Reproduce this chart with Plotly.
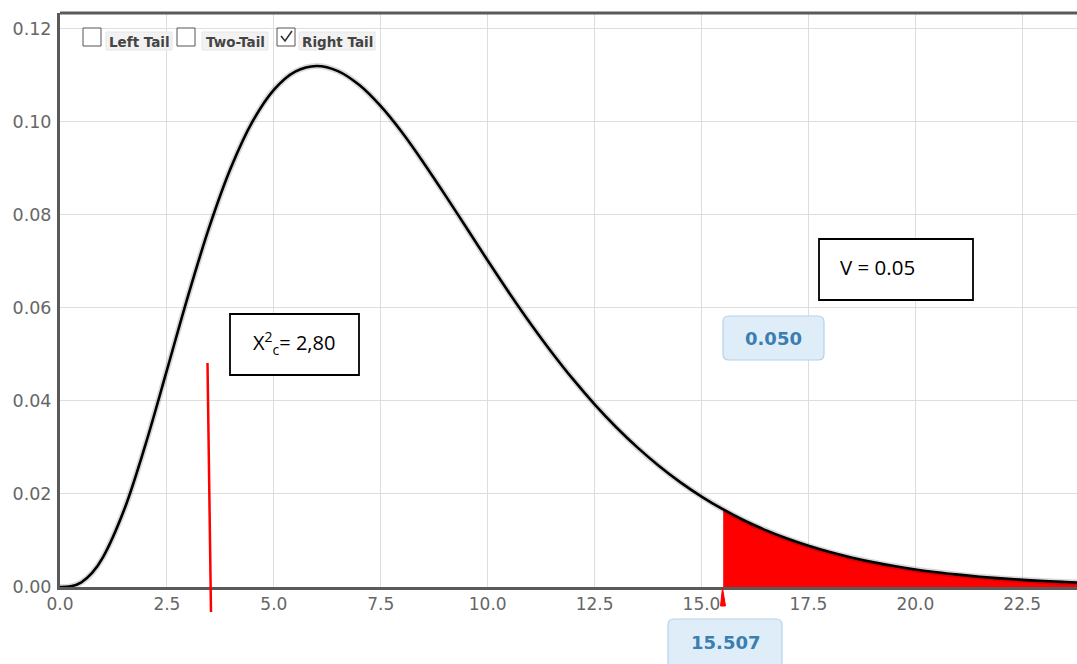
import plotly.graph_objects as go

# ---- data (chi-square density, df = 8) ----
x_vals = [0, 0.25, 0.5, 0.75, 1, 1.5, 2, 2.5, 3, 3.5, 4, 4.5, 5, 5.5, 6, 6.5, 7, 7.5, 8, 8.5,
          9, 9.5, 10, 10.5, 11, 11.5, 12, 12.5, 13, 13.5, 14, 14.5, 15, 15.507, 16, 16.5, 17,
          17.5, 18, 18.5, 19, 19.5, 20, 20.5, 21, 21.5, 22, 22.5, 23, 23.5, 24]
y_vals = [0, 0.00014, 0.00101, 0.00302, 0.00632, 0.01661, 0.03066, 0.04663, 0.06276, 0.07762,
          0.09022, 0.10004, 0.10688, 0.11080, 0.11202, 0.11091, 0.10790, 0.10336, 0.09770,
          0.09123, 0.08436, 0.07727, 0.07019, 0.06328, 0.05666, 0.05043, 0.04462, 0.03927,
          0.03440, 0.03001, 0.02607, 0.02255, 0.01944, 0.01667, 0.01430, 0.01223, 0.01041,
          0.00885, 0.00750, 0.00634, 0.00535, 0.00450, 0.00378, 0.00317, 0.00266, 0.00222,
          0.00185, 0.00154, 0.00128, 0.00107, 0.00088]
critical_value = 15.507
tail_area = "0.050"
x_ticks = [0, 2.5, 5, 7.5, 10, 12.5, 15, 17.5, 20, 22.5]
x_tick_text = ["0.0", "2.5", "5.0", "7.5", "10.0", "12.5", "15.0", "17.5", "20.0", "22.5"]
y_ticks = [0, 0.02, 0.04, 0.06, 0.08, 0.10, 0.12]
y_tick_text = ["0.00", "0.02", "0.04", "0.06", "0.08", "0.10", "0.12"]
tail_options = ["Left Tail", "Two-Tail", "Right Tail"]
tail_checked = [False, False, True]
box_v_text = "V = 0.05"
box_x_text = "X<sup>2</sup><sub>c</sub>= 2,80"

tail_x = [x for x in x_vals if x >= critical_value]
tail_y = [y for x, y in zip(x_vals, y_vals) if x >= critical_value]

# ---- layout geometry (screen pixels; page body margin removed) ----
W, H = 1077, 664
L, T, R = 60, 13, 0
B = H - 587
PW, PH = W - L - R, H - T - B


def px(X):
    return (X - L) / PW


def py(Y):
    return (H - B - Y) / PH


fig = go.Figure()
fig.add_trace(go.Scatter(x=tail_x, y=tail_y, mode="lines", line=dict(color="red", width=0, shape="spline"),
                         fill="tozeroy", fillcolor="red", hoverinfo="skip", showlegend=False))
fig.add_trace(go.Scatter(x=x_vals, y=y_vals, mode="lines",
                         line=dict(color="rgba(0,0,0,0.15)", width=6, shape="spline"),
                         hoverinfo="skip", showlegend=False))
fig.add_trace(go.Scatter(x=x_vals, y=y_vals, mode="lines", line=dict(color="black", width=2.6, shape="spline"),
                         showlegend=False))

shapes = []
annotations = []

# top border
shapes.append(dict(type="line", xref="paper", yref="paper", x0=0, x1=1, y0=1, y1=1,
                   line=dict(color="#5a5a5a", width=3)))

# red vertical line (X2c marker)
shapes.append(dict(type="line", xref="paper", yref="paper", x0=px(207.5), y0=py(363), x1=px(211), y1=py(612),
                   line=dict(color="red", width=2.5)))

# red pointer under the critical value
shapes.append(dict(type="path", xref="paper", yref="paper",
                   path=f"M {px(720.5)} {py(606)} L {px(722.5)} {py(588)} L {px(725.5)} {py(606)} Z",
                   fillcolor="red", line=dict(color="red", width=1)))


def rounded(x0, y0, x1, y1, r=6):
    return (f"M {px(x0 + r)} {py(y0)} L {px(x1 - r)} {py(y0)} "
            f"Q {px(x1)} {py(y0)} {px(x1)} {py(y0 + r)} L {px(x1)} {py(y1 - r)} "
            f"Q {px(x1)} {py(y1)} {px(x1 - r)} {py(y1)} L {px(x0 + r)} {py(y1)} "
            f"Q {px(x0)} {py(y1)} {px(x0)} {py(y1 - r)} L {px(x0)} {py(y0 + r)} "
            f"Q {px(x0)} {py(y0)} {px(x0 + r)} {py(y0)} Z")


# blue value boxes
for (x0, y0, x1, y1, ty, txt) in [(668, 619, 782, 672, 642, f"{critical_value:.3f}"),
                                  (723, 316, 824, 360, 338, tail_area)]:
    shapes.append(dict(type="path", xref="paper", yref="paper", path=rounded(x0, y0, x1, y1),
                       fillcolor="#dfedf9", line=dict(color="#b3d2ec", width=1.2)))
    annotations.append(dict(xref="paper", yref="paper", x=px((x0 + x1) / 2), y=py(ty),
                            xanchor="center", yanchor="middle",
                            text=f"<b>{txt}</b>", showarrow=False,
                            font=dict(family="DejaVu Sans", size=18, color="#3a7fb0")))

# black text boxes
shapes.append(dict(type="rect", xref="paper", yref="paper", x0=px(819), x1=px(973), y0=py(239), y1=py(300),
                   fillcolor="white", line=dict(color="black", width=1.8)))
annotations.append(dict(xref="paper", yref="paper", x=px(838), y=py(267), xanchor="left", yanchor="middle",
                        text=box_v_text, showarrow=False, font=dict(family="Open Sans", size=20.5, color="black")))
shapes.append(dict(type="rect", xref="paper", yref="paper", x0=px(230), x1=px(359), y0=py(314), y1=py(375),
                   fillcolor="white", line=dict(color="black", width=1.8)))
annotations.append(dict(xref="paper", yref="paper", x=px(294), y=py(343), xanchor="center", yanchor="middle",
                        text=box_x_text, showarrow=False, font=dict(family="Open Sans", size=20, color="black")))

# tail option checkboxes
box_lefts = [83, 177, 277]
text_spans = [(106, 172), (202, 268), (299, 375)]
for i, (lab, chk) in enumerate(zip(tail_options, tail_checked)):
    bx = box_lefts[i]
    shapes.append(dict(type="rect", xref="paper", yref="paper", x0=px(bx), x1=px(bx + 18), y0=py(28), y1=py(46),
                       fillcolor="white", line=dict(color="#555", width=1)))
    if chk:
        shapes.append(dict(type="path", xref="paper", yref="paper",
                           path=f"M {px(bx + 4)} {py(36)} L {px(bx + 8)} {py(41)} L {px(bx + 15)} {py(31)}",
                           line=dict(color="#333", width=1.6)))
    t0, t1 = text_spans[i]
    shapes.append(dict(type="rect", xref="paper", yref="paper", x0=px(t0), x1=px(t1), y0=py(32), y1=py(50),
                       fillcolor="#f2f2f2", line=dict(color="#e6e6e6", width=1)))
    annotations.append(dict(xref="paper", yref="paper", x=px((t0 + t1) / 2), y=py(42), xanchor="center",
                            yanchor="middle", text=f"<b>{lab}</b>", showarrow=False,
                            font=dict(family="DejaVu Sans", size=13.5, color="#444")))

fig.update_layout(
    width=W, height=H, autosize=False,
    margin=dict(l=L, r=R, t=T, b=B),
    paper_bgcolor="white", plot_bgcolor="white",
    shapes=shapes, annotations=annotations,
    xaxis=dict(range=[0, 23.78], tickvals=x_ticks, ticktext=x_tick_text, showgrid=True, automargin=False,
               gridcolor="#dedede", gridwidth=1, zeroline=False, showline=True, linecolor="#5a5a5a",
               linewidth=3, ticks="", tickfont=dict(family="DejaVu Sans", size=17, color="#666")),
    yaxis=dict(range=[0, 0.1234], tickvals=y_ticks, ticktext=y_tick_text, showgrid=True, automargin=False,
               gridcolor="#dedede", gridwidth=1, zeroline=False, showline=True, linecolor="#5a5a5a",
               linewidth=3, ticks="", ticklabelstandoff=2,
               tickfont=dict(family="DejaVu Sans", size=17.5, color="#666")),
)

fig.write_html("out.html", config={"displayModeBar": False},
               post_script="document.body.style.margin='0';document.body.style.overflow='hidden';")
